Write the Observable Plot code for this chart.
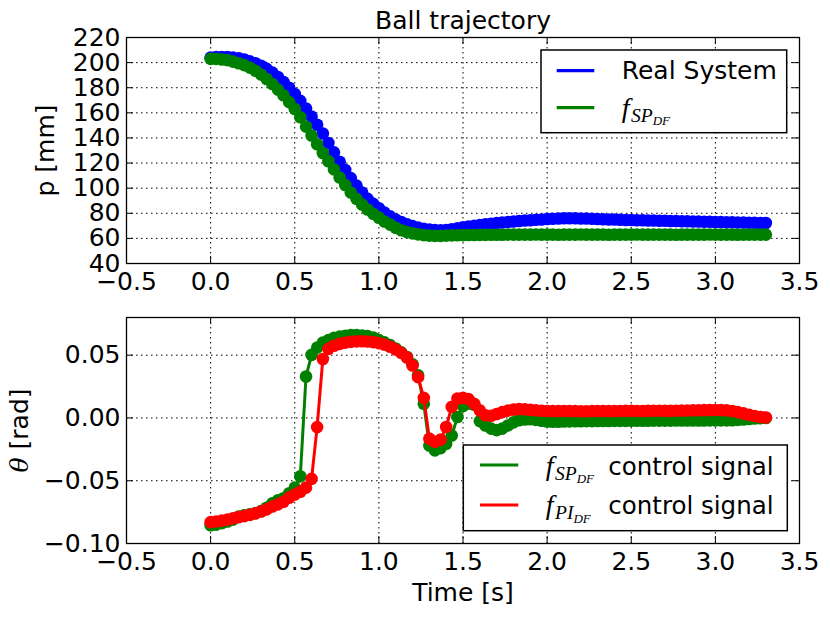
<!DOCTYPE html>
<html><head><meta charset="utf-8">
<script src="https://cdn.jsdelivr.net/npm/d3@7"></script>
<script src="https://cdn.jsdelivr.net/npm/@observablehq/plot@0.6"></script>
<style>
html,body{margin:0;padding:0;background:#fff;}
#chart{width:830px;height:617px;position:relative;background:#fff;}
#chart svg{display:block;}
</style></head><body><div id="chart"></div>
<script>
// sample times [s]
const time = [
  0, 0.033, 0.067, 0.1, 0.133, 0.167, 0.2, 0.233, 0.267, 0.3,
  0.333, 0.367, 0.4, 0.433, 0.467, 0.5, 0.533, 0.567, 0.6, 0.633,
  0.667, 0.7, 0.733, 0.767, 0.8, 0.833, 0.867, 0.9, 0.933, 0.967,
  1, 1.033, 1.067, 1.1, 1.133, 1.167, 1.2, 1.233, 1.267, 1.3,
  1.333, 1.367, 1.4, 1.433, 1.467, 1.5, 1.533, 1.567, 1.6, 1.633,
  1.667, 1.7, 1.733, 1.767, 1.8, 1.833, 1.867, 1.9, 1.933, 1.967,
  2, 2.033, 2.067, 2.1, 2.133, 2.167, 2.2, 2.233, 2.267, 2.3,
  2.333, 2.367, 2.4, 2.433, 2.467, 2.5, 2.533, 2.567, 2.6, 2.633,
  2.667, 2.7, 2.733, 2.767, 2.8, 2.833, 2.867, 2.9, 2.933, 2.967,
  3, 3.033, 3.067, 3.1, 3.133, 3.167, 3.2, 3.233, 3.267, 3.3
];
// Ball position p [mm]
const realSystem = [
  204, 204.5, 204.5, 204.5, 204, 203.5, 202.5, 201, 199.5, 197.5,
  195, 192, 188.5, 184.5, 180, 175, 169.5, 163.5, 157, 150.5,
  143.5, 136, 128.5, 121, 114.5, 108, 102, 96.5, 91.5, 87.5,
  84, 80.5, 77.5, 75, 73, 71.3, 69.8, 68.6, 67.6, 67,
  66.6, 66.5, 66.7, 67.3, 68, 68.8, 69.5, 70.1, 70.7, 71.2,
  71.7, 72.2, 72.6, 73, 73.4, 73.8, 74.2, 74.5, 74.8, 75.1,
  75.4, 75.6, 75.8, 76, 76, 76, 75.9, 75.8, 75.6, 75.4,
  75.2, 75.1, 75, 74.8, 74.7, 74.6, 74.5, 74.4, 74.3, 74.2,
  74.1, 74, 73.9, 73.8, 73.7, 73.6, 73.5, 73.4, 73.3, 73.2,
  73.1, 73, 72.9, 72.8, 72.7, 72.6, 72.5, 72.4, 72.3, 72.2
];
const fSP = [
  203, 203, 202.5, 202, 200.8, 199.5, 198, 196, 193.5, 190.5,
  187, 183, 178.5, 174, 168.5, 163, 156.5, 149, 142, 135,
  128, 121.5, 115, 108.5, 102.5, 96.5, 91.5, 87, 83, 79.5,
  76.5, 73.5, 71, 68.5, 66.5, 65, 64, 63.2, 62.6, 62.2,
  62, 62, 62.2, 62.4, 62.5, 62.6, 62.7, 62.7, 62.8, 62.8,
  62.9, 62.9, 62.9, 63, 63, 63, 63, 63, 63.1, 63,
  63, 63, 62.9, 63, 63, 63, 63.1, 63, 63, 63,
  63, 62.9, 63, 63, 63, 63, 63.1, 63, 63, 63,
  63, 63, 63, 62.9, 63, 63, 63, 63, 63, 63.1,
  63, 63, 63, 63, 62.9, 63, 63, 63, 63, 63
];
// Control signal theta [rad]
const fSPControl = [
  -0.0855, -0.0850, -0.0838, -0.0825, -0.0810, -0.0785, -0.0775, -0.0768, -0.0758, -0.0742,
  -0.0715, -0.0680, -0.0655, -0.0640, -0.0600, -0.0555, -0.0465, 0.0330, 0.0502, 0.0560,
  0.0600, 0.0620, 0.0638, 0.0648, 0.0655, 0.0660, 0.0660, 0.0657, 0.0652, 0.0640,
  0.0620, 0.0602, 0.0580, 0.0553, 0.0522, 0.0485, 0.0428, 0.0340, 0.0113, -0.0220,
  -0.0258, -0.0240, -0.0205, -0.0140, 0.0008, 0.0095, 0.0115, 0.0105, -0.0025, -0.0060,
  -0.0085, -0.0097, -0.0085, -0.0060, -0.0035, -0.0018, -0.0012, -0.0010, -0.0015, -0.0022,
  -0.0028, -0.0030, -0.0030, -0.0028, -0.0027, -0.0026, -0.0026, -0.0025, -0.0025, -0.0024,
  -0.0024, -0.0024, -0.0023, -0.0023, -0.0023, -0.0022, -0.0022, -0.0022, -0.0022, -0.0021,
  -0.0021, -0.0021, -0.0021, -0.0020, -0.0020, -0.0020, -0.0020, -0.0020, -0.0020, -0.0019,
  -0.0019, -0.0019, -0.0019, -0.0018, -0.0015, -0.0012, -0.0008, -0.0005, -0.0002, 0.0000
];
const fPIControl = [
  -0.0830, -0.0825, -0.0818, -0.0810, -0.0800, -0.0790, -0.0782, -0.0772, -0.0760, -0.0745,
  -0.0728, -0.0705, -0.0688, -0.0668, -0.0635, -0.0610, -0.0588, -0.0555, -0.0485, -0.0073,
  0.0470, 0.0550, 0.0575, 0.0590, 0.0600, 0.0606, 0.0610, 0.0611, 0.0609, 0.0604,
  0.0596, 0.0584, 0.0567, 0.0545, 0.0518, 0.0482, 0.0418, 0.0325, 0.0160, -0.0165,
  -0.0190, -0.0172, -0.0072, 0.0088, 0.0155, 0.0160, 0.0150, 0.0112, 0.0060, 0.0022,
  0.0018, 0.0032, 0.0046, 0.0058, 0.0066, 0.0070, 0.0068, 0.0064, 0.0060, 0.0057,
  0.0055, 0.0054, 0.0054, 0.0055, 0.0055, 0.0054, 0.0053, 0.0053, 0.0054, 0.0055,
  0.0055, 0.0054, 0.0054, 0.0055, 0.0056, 0.0056, 0.0055, 0.0055, 0.0056, 0.0057,
  0.0057, 0.0056, 0.0056, 0.0057, 0.0058, 0.0059, 0.0060, 0.0061, 0.0062, 0.0062,
  0.0063, 0.0062, 0.0060, 0.0055, 0.0046, 0.0036, 0.0026, 0.0016, 0.0008, 0.0003
];
const xTicks = [-0.5, 0, 0.5, 1, 1.5, 2, 2.5, 3, 3.5];
const pTicks = [40, 60, 80, 100, 120, 140, 160, 180, 200, 220];
const thetaTicks = [-0.10, -0.05, 0.00, 0.05];

const W = 830, ML = 126, MR = 31;
const FW = W - ML - MR;
const BLUE = "#0000ff", GREEN = "#008000", RED = "#ff0000";
const gridStyle = {stroke: "#000", strokeOpacity: 1, strokeWidth: 1, strokeDasharray: "1.5,3.5"};
const TL = 7;
const TICK_FS = 25;

function innerTicks(xt, yt, FH) {
  return [
    Plot.tickX(xt, {x: d => d, stroke: "#000", strokeWidth: 1, insetTop: FH - TL}),
    Plot.tickX(xt, {x: d => d, stroke: "#000", strokeWidth: 1, insetBottom: FH - TL}),
    Plot.tickY(yt, {y: d => d, stroke: "#000", strokeWidth: 1, insetRight: FW - TL}),
    Plot.tickY(yt, {y: d => d, stroke: "#000", strokeWidth: 1, insetLeft: FW - TL})
  ];
}

const topRows = time.map((t, i) => ({t, real: realSystem[i], sp: fSP[i]}));
const botRows = time.map((t, i) => ({t, sp: fSPControl[i], pi: fPIControl[i]}));

// ---- top panel ----
const H1 = 300, MT1 = 37, MB1 = 37;
const topPlot = Plot.plot({
  width: W, height: H1, marginLeft: ML, marginRight: MR, marginTop: MT1, marginBottom: MB1,
  style: {fontFamily: "'DejaVu Sans', sans-serif", fontSize: "24px", background: "#fff", color: "#000"},
  x: {domain: [-0.5, 3.5]},
  y: {domain: [40, 220]},
  marks: [
    Plot.gridX(xTicks, gridStyle),
    Plot.gridY(pTicks, gridStyle),
    Plot.line(topRows, {x: "t", y: "real", stroke: BLUE, strokeWidth: 3}),
    Plot.dot(topRows, {x: "t", y: "real", r: 6.3, fill: BLUE, stroke: null}),
    Plot.line(topRows, {x: "t", y: "sp", stroke: GREEN, strokeWidth: 3}),
    Plot.dot(topRows, {x: "t", y: "sp", r: 6.3, fill: GREEN, stroke: null}),
    ...innerTicks(xTicks, pTicks, H1 - MT1 - MB1),
    Plot.frame({stroke: "#000", strokeWidth: 1.3}),
    Plot.axisX(xTicks, {tickSize: 0, tickPadding: 9, tickFormat: d3.format(".1f"), fontSize: TICK_FS, label: null}),
    Plot.axisY(pTicks, {tickSize: 0, tickPadding: 6, tickFormat: d3.format("d"), fontSize: TICK_FS, label: null}),
    Plot.text(["Ball trajectory"], {frameAnchor: "top", dy: -17, lineAnchor: "middle", fontSize: 25}),
    Plot.text(["p [mm]"], {frameAnchor: "left", textAnchor: "middle", rotate: -90, dx: -81, lineAnchor: "middle", fontSize: 25})
  ]
});

// ---- bottom panel ----
const H2 = 317, MT2 = 17, MB2 = 74;
const bottomPlot = Plot.plot({
  width: W, height: H2, marginLeft: ML, marginRight: MR, marginTop: MT2, marginBottom: MB2,
  style: {fontFamily: "'DejaVu Sans', sans-serif", fontSize: "24px", background: "#fff", color: "#000"},
  x: {domain: [-0.5, 3.5]},
  y: {domain: [-0.1, 0.08]},
  marks: [
    Plot.gridX(xTicks, gridStyle),
    Plot.gridY(thetaTicks, gridStyle),
    Plot.line(botRows, {x: "t", y: "sp", stroke: GREEN, strokeWidth: 3}),
    Plot.dot(botRows, {x: "t", y: "sp", r: 6.3, fill: GREEN, stroke: null}),
    Plot.line(botRows, {x: "t", y: "pi", stroke: RED, strokeWidth: 3}),
    Plot.dot(botRows, {x: "t", y: "pi", r: 6.3, fill: RED, stroke: null}),
    ...innerTicks(xTicks, thetaTicks, H2 - MT2 - MB2),
    Plot.frame({stroke: "#000", strokeWidth: 1.3}),
    Plot.axisX(xTicks, {tickSize: 0, tickPadding: 9, tickFormat: d3.format(".1f"), fontSize: TICK_FS, label: null}),
    Plot.axisY(thetaTicks, {tickSize: 0, tickPadding: 6, tickFormat: d3.format(".2f"), fontSize: TICK_FS, label: null}),
    Plot.text(["Time [s]"], {frameAnchor: "bottom", dy: 49, lineAnchor: "middle", fontSize: 25}),
    Plot.text(["θ [rad]"], {frameAnchor: "left", textAnchor: "middle", rotate: -90, dx: -107, lineAnchor: "middle", fontSize: 25})
  ]
});

// italic theta in y label
d3.select(bottomPlot).selectAll("text").filter(function () { return this.textContent === "θ [rad]"; })
  .each(function () {
    const t = d3.select(this);
    t.text(null);
    t.append("tspan").attr("font-family", "'DejaVu Serif', serif").attr("font-style", "italic").text("θ");
    t.append("tspan").text(" [rad]");
  });

function mathF(g, x, y, sub, subsub) {
  const t = g.append("text").attr("x", x).attr("y", y).attr("text-anchor", "start")
    .attr("font-family", "'Liberation Serif', serif").attr("font-style", "italic").attr("fill", "#000");
  t.append("tspan").attr("font-size", 28).text("f");
  t.append("tspan").attr("font-size", 19.5).attr("dx", 1.5).attr("dy", 5).text(sub);
  t.append("tspan").attr("font-size", 13).attr("dy", 3.5).text(subsub);
}

function legend(svg, box, items) {
  const g = d3.select(svg).append("g").attr("text-anchor", "start");
  g.append("rect").attr("x", box.x).attr("y", box.y).attr("width", box.w).attr("height", box.h)
    .attr("fill", "#fff").attr("stroke", "#000").attr("stroke-width", 1.5);
  items.forEach(it => {
    g.append("line").attr("x1", box.lx1).attr("x2", box.lx2).attr("y1", it.ly).attr("y2", it.ly)
      .attr("stroke", it.color).attr("stroke-width", 3.2);
    if (it.math) mathF(g, box.tx, it.base, it.math[0], it.math[1]);
    if (it.label) g.append("text").attr("x", it.lx || box.tx).attr("y", it.base).attr("text-anchor", "start")
      .attr("font-family", "'DejaVu Sans', sans-serif").attr("font-size", it.fs || 25).attr("fill", "#000").text(it.label);
  });
}

legend(topPlot, {x: 541, y: 50, w: 245.7, h: 82.7, lx1: 556.7, lx2: 594.3, tx: 621.7}, [
  {color: BLUE, ly: 70.7, base: 79.3, label: "Real System"},
  {color: GREEN, ly: 107.7, base: 116.5, math: ["SP", "DF"]}
]);
legend(bottomPlot, {x: 463.3, y: 145, w: 324, h: 85.7, lx1: 480, lx2: 518.3, tx: 545.7}, [
  {color: GREEN, ly: 165, base: 174.5, math: ["SP", "DF"], label: "control signal", lx: 608.3, fs: 24.5},
  {color: RED, ly: 205, base: 214, math: ["PI", "DF"], label: "control signal", lx: 608.3, fs: 24.5}
]);

const chart = document.getElementById("chart");
chart.appendChild(topPlot);
chart.appendChild(bottomPlot);
</script>
</body></html>
